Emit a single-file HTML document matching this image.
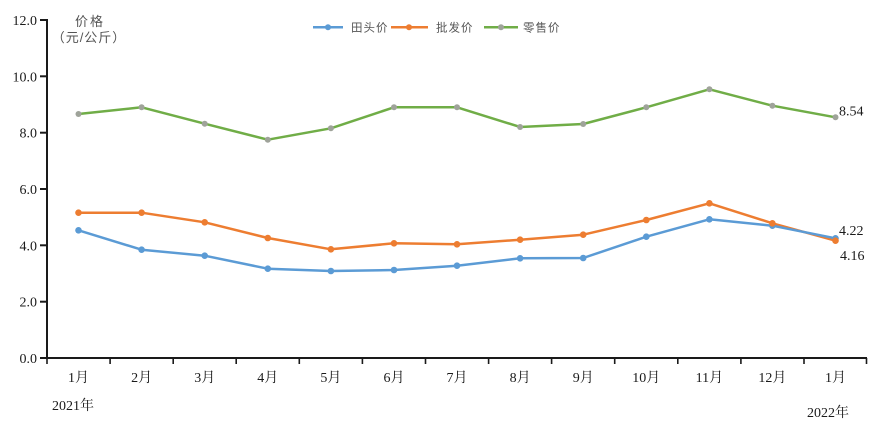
<!DOCTYPE html>
<html>
<head>
<meta charset="utf-8">
<style>
html,body{margin:0;padding:0;background:#fff;}
svg{display:block;}
.t{font-family:"Liberation Serif","Noto Serif CJK SC","Noto Sans CJK SC",serif;font-size:14px;fill:#1a1a1a;}
.c{font-family:"Liberation Sans","Noto Sans CJK SC",sans-serif;font-size:13px;fill:#555;}
.l{font-family:"Liberation Sans","Noto Sans CJK SC",sans-serif;font-size:11.5px;fill:#555;}
</style>
</head>
<body>
<svg width="891" height="437" viewBox="0 0 891 437" xmlns="http://www.w3.org/2000/svg">
<rect width="891" height="437" fill="#fff"/>
<!-- axes -->
<g stroke="#1a1a1a" stroke-width="2" fill="none">
<line x1="47" y1="19" x2="47" y2="359"/>
<line x1="46" y1="358" x2="867" y2="358"/>
<line x1="40" y1="20" x2="47" y2="20"/>
<line x1="40" y1="76.3" x2="47" y2="76.3"/>
<line x1="40" y1="132.7" x2="47" y2="132.7"/>
<line x1="40" y1="189" x2="47" y2="189"/>
<line x1="40" y1="245.3" x2="47" y2="245.3"/>
<line x1="40" y1="301.7" x2="47" y2="301.7"/>
<line x1="40" y1="358" x2="47" y2="358"/>
</g>
<g stroke="#1a1a1a" stroke-width="1.6">
<line x1="47" y1="358" x2="47" y2="364"/>
<line x1="110.1" y1="358" x2="110.1" y2="364"/>
<line x1="173.2" y1="358" x2="173.2" y2="364"/>
<line x1="236.2" y1="358" x2="236.2" y2="364"/>
<line x1="299.3" y1="358" x2="299.3" y2="364"/>
<line x1="362.4" y1="358" x2="362.4" y2="364"/>
<line x1="425.5" y1="358" x2="425.5" y2="364"/>
<line x1="488.6" y1="358" x2="488.6" y2="364"/>
<line x1="551.6" y1="358" x2="551.6" y2="364"/>
<line x1="614.7" y1="358" x2="614.7" y2="364"/>
<line x1="677.8" y1="358" x2="677.8" y2="364"/>
<line x1="740.9" y1="358" x2="740.9" y2="364"/>
<line x1="804" y1="358" x2="804" y2="364"/>
<line x1="866.5" y1="358" x2="866.5" y2="364"/>
</g>
<!-- y labels -->
<g class="t" text-anchor="end">
<text x="37" y="25">12.0</text>
<text x="37" y="81.3">10.0</text>
<text x="37" y="137.7">8.0</text>
<text x="37" y="194">6.0</text>
<text x="37" y="250.3">4.0</text>
<text x="37" y="306.7">2.0</text>
<text x="37" y="363">0.0</text>
</g>
<text class="c" x="90" y="26" text-anchor="middle" letter-spacing="2">价格</text>
<text class="c" x="89" y="42" text-anchor="middle" letter-spacing="1">（元/公斤）</text>
<!-- x labels -->
<g class="t" text-anchor="middle">
<text x="78.5" y="382">1月</text>
<text x="141.6" y="382">2月</text>
<text x="204.7" y="382">3月</text>
<text x="267.8" y="382">4月</text>
<text x="330.9" y="382">5月</text>
<text x="394" y="382">6月</text>
<text x="457" y="382">7月</text>
<text x="520.1" y="382">8月</text>
<text x="583.2" y="382">9月</text>
<text x="646.3" y="382">10月</text>
<text x="709.4" y="382">11月</text>
<text x="772.4" y="382">12月</text>
<text x="835.5" y="382">1月</text>
</g>
<text class="t" x="52" y="410">2021年</text>
<text class="t" x="807" y="417">2022年</text>
<!-- legend -->
<g stroke-width="2.5">
<line x1="313" y1="27.3" x2="343" y2="27.3" stroke="#5B9BD5"/>
<line x1="391" y1="27.3" x2="428" y2="27.3" stroke="#ED7D31"/>
<line x1="484" y1="27.3" x2="518" y2="27.3" stroke="#70AD47"/>
</g>
<circle cx="328" cy="27.3" r="3" fill="#5B9BD5"/>
<circle cx="409" cy="27.3" r="3" fill="#ED7D31"/>
<circle cx="501" cy="27.3" r="3" fill="#9FA39A"/>
<g class="l">
<text x="351" y="31.5" letter-spacing="1">田头价</text>
<text x="436" y="31.5" letter-spacing="1">批发价</text>
<text x="523" y="31.5" letter-spacing="1">零售价</text>
</g>
<!-- series -->
<polyline fill="none" stroke="#70AD47" stroke-width="2.5" stroke-linejoin="round"
points="78.5,114 141.6,107.3 204.7,123.7 267.8,139.7 330.9,128.3 394,107.3 457,107.3 520.1,127 583.2,124 646.3,107.3 709.4,89.3 772.4,105.7 835.5,117.3"/>
<polyline fill="none" stroke="#ED7D31" stroke-width="2.5" stroke-linejoin="round"
points="78.5,212.7 141.6,212.7 204.7,222.3 267.8,238 330.9,249.3 394,243.3 457,244.3 520.1,239.7 583.2,234.7 646.3,220 709.4,203.3 772.4,223.3 835.5,240.7"/>
<polyline fill="none" stroke="#5B9BD5" stroke-width="2.5" stroke-linejoin="round"
points="78.5,230.3 141.6,249.7 204.7,255.7 267.8,268.7 330.9,271 394,270 457,265.7 520.1,258.3 583.2,258 646.3,236.7 709.4,219.3 772.4,225.7 835.5,238.3"/>
<g fill="#9FA39A">
<circle cx="78.5" cy="114" r="3"/><circle cx="141.6" cy="107.3" r="3"/><circle cx="204.7" cy="123.7" r="3"/><circle cx="267.8" cy="139.7" r="3"/><circle cx="330.9" cy="128.3" r="3"/><circle cx="394" cy="107.3" r="3"/><circle cx="457" cy="107.3" r="3"/><circle cx="520.1" cy="127" r="3"/><circle cx="583.2" cy="124" r="3"/><circle cx="646.3" cy="107.3" r="3"/><circle cx="709.4" cy="89.3" r="3"/><circle cx="772.4" cy="105.7" r="3"/><circle cx="835.5" cy="117.3" r="3"/>
</g>
<g fill="#5B9BD5">
<circle cx="78.5" cy="230.3" r="3.3"/><circle cx="141.6" cy="249.7" r="3.3"/><circle cx="204.7" cy="255.7" r="3.3"/><circle cx="267.8" cy="268.7" r="3.3"/><circle cx="330.9" cy="271" r="3.3"/><circle cx="394" cy="270" r="3.3"/><circle cx="457" cy="265.7" r="3.3"/><circle cx="520.1" cy="258.3" r="3.3"/><circle cx="583.2" cy="258" r="3.3"/><circle cx="646.3" cy="236.7" r="3.3"/><circle cx="709.4" cy="219.3" r="3.3"/><circle cx="772.4" cy="225.7" r="3.3"/><circle cx="835.5" cy="238.3" r="3.3"/>
</g>
<g fill="#ED7D31">
<circle cx="78.5" cy="212.7" r="3.3"/><circle cx="141.6" cy="212.7" r="3.3"/><circle cx="204.7" cy="222.3" r="3.3"/><circle cx="267.8" cy="238" r="3.3"/><circle cx="330.9" cy="249.3" r="3.3"/><circle cx="394" cy="243.3" r="3.3"/><circle cx="457" cy="244.3" r="3.3"/><circle cx="520.1" cy="239.7" r="3.3"/><circle cx="583.2" cy="234.7" r="3.3"/><circle cx="646.3" cy="220" r="3.3"/><circle cx="709.4" cy="203.3" r="3.3"/><circle cx="772.4" cy="223.3" r="3.3"/><circle cx="835.5" cy="240.7" r="3.3"/>
</g>
<!-- data labels -->
<g class="t">
<text x="839" y="115.5">8.54</text>
<text x="839" y="235">4.22</text>
<text x="840" y="260">4.16</text>
</g>
</svg>
</body>
</html>
